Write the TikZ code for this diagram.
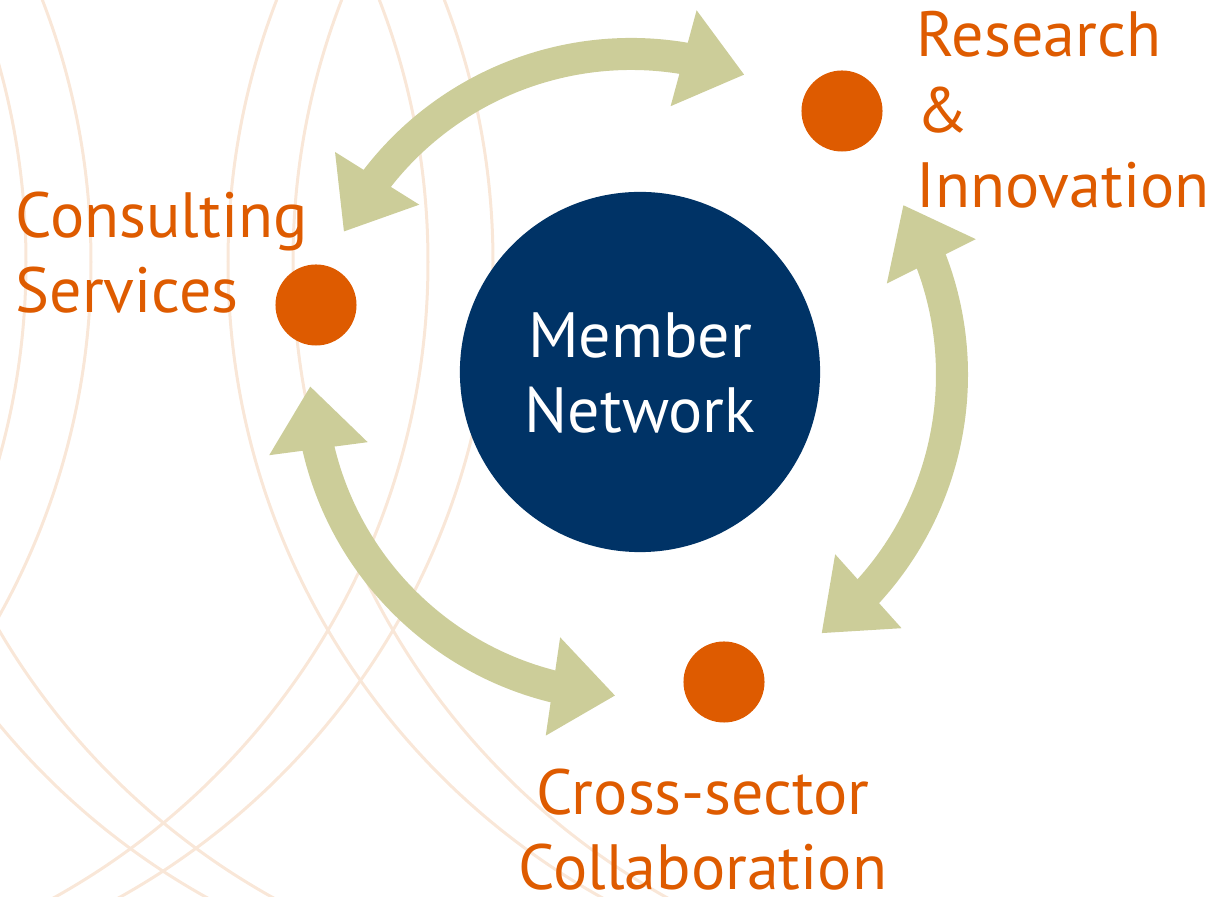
\documentclass[tikz,border=0pt]{standalone}
\usepackage{fontspec}
\setmainfont{PT Sans}
\usetikzlibrary{arrows.meta,bending}
\definecolor{burnt orange}{RGB}{222,91,0}
\definecolor{sage}{RGB}{204,205,153}
\definecolor{deep navy}{RGB}{0,51,102}
\definecolor{peach line}{RGB}{249,231,216}

\begin{document}
\begin{tikzpicture}[x=0.01cm, y=0.01cm,
		hub/.style={circle, fill=deep navy, minimum size=3.6cm, inner sep=0pt},
		dot/.style={circle, fill=burnt orange, minimum size=0.81cm, inner sep=0pt},
		topic/.style={text=burnt orange, inner sep=0pt, font=\fontsize{18.2}{21.6}\selectfont},
		link/.style={draw=sage, line width=0.32cm, >={Triangle[length=0.63cm, width=0.95cm, flex]}, <->},
		ring/.style={draw=peach line, line width=0.03cm}]
		\useasboundingbox (0,0) rectangle (1211,897);
		% faint rings behind everything
		\begin{scope}
			\clip (0,0) rectangle (700,897);
			\foreach \cx in {-701, -636, -299, -234, 560, 626, 955, 1020}
				\draw[ring] (\cx,635) circle[radius=727];
		\end{scope}
		% arrows round the hub
		\coordinate (orbit) at (631,522);
		\foreach \from/\to [count=\i] in {153.5/69.3, 32/-53.6, 182/267.2} {
			\path (orbit) ++(\from:321) coordinate (arc-\i);
			\draw[link] (arc-\i) arc[start angle=\from, end angle=\to, radius=321];
		}
		% centre and dots
		\node[hub] (member) at (640,525) {};
		\node[dot] (consult) at (316,592) {};
		\node[dot] (research) at (842,786) {};
		\node[dot] (cross) at (724,215) {};
		% texts (base = last line)
		\node[topic, text=white, anchor=base, align=center] (member-txt) at (640,464) {Member\\Network};
		\node[topic, anchor=base west, align=left] (consult-txt) at (15,584) {Consulting\\Services};
		\node[topic, anchor=base west, align=left] (research-txt) at (916,689) {Research\\\&\\Innovation};
		\node[topic, anchor=base, align=center] (cross-txt) at (703,7) {Cross-sector\\Collaboration};
\end{tikzpicture}
\end{document}
